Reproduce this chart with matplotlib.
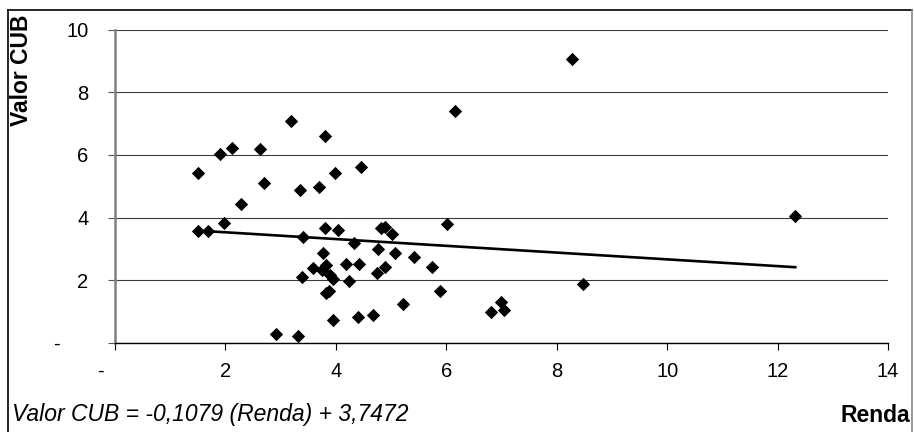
import matplotlib
matplotlib.use('Agg')
import matplotlib.pyplot as plt
from matplotlib.lines import Line2D

plt.rcParams['font.family'] = ['Liberation Sans', 'DejaVu Sans']

# Renda x Valor CUB
renda = [1.51, 1.90, 2.11, 2.63, 3.19, 3.80, 2.70, 3.35, 3.69, 3.99, 4.46,
         8.28, 6.15, 12.32,
         2.29, 1.50, 1.69, 1.97, 3.41, 3.80, 4.03, 4.32, 4.82, 4.89, 5.02,
         3.77, 4.76, 5.07, 5.42, 3.59, 3.74, 3.83, 3.89, 3.94, 4.18, 4.42,
         4.89, 4.74, 3.38, 4.24, 3.83, 3.88, 5.22, 3.94, 4.40, 4.68, 2.92, 3.31,
         6.01, 5.75, 5.88, 6.81, 7.00, 7.05, 8.48]
valor_cub = [5.41, 6.03, 6.23, 6.18, 7.09, 6.60, 5.10, 4.88, 4.99, 5.41, 5.60,
             9.05, 7.41, 4.05,
             4.44, 3.57, 3.57, 3.82, 3.39, 3.66, 3.61, 3.20, 3.66, 3.71, 3.48,
             2.88, 2.99, 2.88, 2.75, 2.38, 2.33, 2.49, 2.17, 2.04, 2.51, 2.51,
             2.42, 2.24, 2.10, 1.98, 1.59, 1.66, 1.23, 0.73, 0.84, 0.88, 0.28, 0.23,
             3.80, 2.42, 1.66, 1.00, 1.30, 1.05, 1.88]

slope = -0.1079
intercept = 3.7472
x_ticks = [0, 2, 4, 6, 8, 10, 12, 14]
x_labels = ['-     ', '2', '4', '6', '8', '10', '12', '14']
y_ticks = [0, 2, 4, 6, 8, 10]
y_labels = ['-     ', '2', '4', '6', '8', '10']

fig = plt.figure(figsize=(9.14, 4.32), dpi=100)
ax = fig.add_axes([115 / 914, 89 / 432, 773 / 914, 313.5 / 432])

ax.scatter(renda, valor_cub, marker='D', s=46, color='black', zorder=3, linewidths=0)
fit_x = [min(renda), max(renda)]
fit_y = [slope * v + intercept for v in fit_x]
ax.plot(fit_x, fit_y, color='black', lw=1.9, zorder=2)

ax.set_xlim(0, 14)
ax.set_ylim(0, 10)
ax.set_xticks(x_ticks)
ax.set_xticklabels(x_labels)
ax.set_yticks(y_ticks)
ax.set_yticklabels(y_labels)
ax.tick_params(axis='both', direction='out', length=5, width=0.8, labelsize=14.5, color='black')
ax.tick_params(axis='y', pad=14, colors='#555555', labelcolor='black')
ax.tick_params(axis='x', pad=9)

ax.grid(axis='y', color='#3a3a3a', lw=0.8)
ax.set_axisbelow(True)
for side in ['top', 'right']:
    ax.spines[side].set_visible(False)
ax.spines['left'].set_color('#808080')
ax.spines['left'].set_linewidth(1.8)
ax.spines['bottom'].set_color('black')
ax.spines['bottom'].set_linewidth(1.0)

fig.text(22 / 914, 1 - 14 / 432, 'Valor CUB', rotation=90, ha='center', va='top',
         fontsize=16.5, fontweight='bold')
fig.text(910 / 914, 1 - 415 / 432, 'Renda', ha='right', va='center',
         fontsize=16.5, fontweight='bold')
fig.text(12 / 914, 1 - 415 / 432, 'Valor CUB = -0,1079 (Renda) + 3,7472',
         ha='left', va='center', fontsize=16.5, style='italic')

# chart frame
fig.add_artist(Line2D([8 / 914, 8 / 914], [0, 1 - 10 / 432], transform=fig.transFigure, color='black', lw=1.2))
fig.add_artist(Line2D([8 / 914, 912 / 914], [1 - 10 / 432, 1 - 10 / 432], transform=fig.transFigure, color='black', lw=1.2))
fig.add_artist(Line2D([912 / 914, 912 / 914], [0, 1 - 10 / 432], transform=fig.transFigure, color='#888888', lw=1.2))

plt.savefig('out.png', dpi=100)
